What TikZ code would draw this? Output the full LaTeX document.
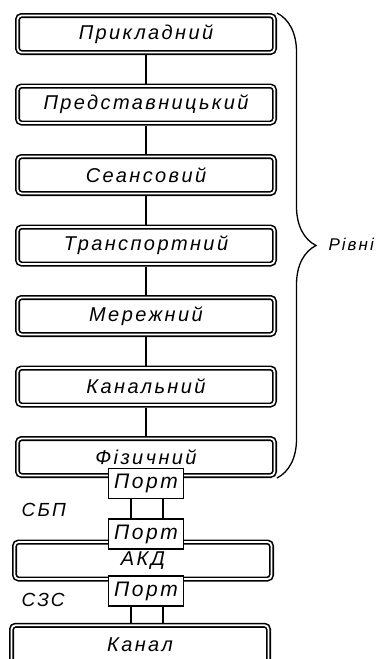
\documentclass[tikz,border=0pt]{standalone}
\usepackage{fontspec}
\setmainfont{Liberation Sans}[LetterSpace=12]
\usetikzlibrary{decorations.pathreplacing}

\tikzset{
	layerbox/.style={draw, double, double distance=1.8pt, line width=1.6pt, rounded corners=4pt,
		minimum width=257pt, minimum height=37pt, inner sep=0pt, outer sep=2.5pt,
		font=\fontsize{20}{22}\selectfont\itshape},
	port/.style={draw, fill=white, line width=1.3pt, minimum width=75pt, minimum height=30pt,
		inner sep=0pt, font=\fontsize{21}{23}\selectfont\itshape},
	lbl/.style={font=\fontsize{19}{21}\selectfont\itshape},
	wire/.style={line width=1.3pt}
}

\begin{document}
\begin{tikzpicture}[x=1pt,y=-1pt]
%\draw [help lines,black!20!white] (0,0) grid[step=20] (382,659);
\useasboundingbox (0,0) rectangle (382,659);
\clip (0,0) rectangle (382,659);

\foreach \name/\txt [count=\i from 0] in {app/Прикладний, pres/Представницький, sess/Сеансовий,
	trans/Транспортний, net/Мережний, link/Канальний, phys/Фізичний}{
	\node[layerbox] (\name) at (146,{34+70.5*\i}) {\txt};}

\foreach \a/\b in {app/pres, pres/sess, sess/trans, trans/net, net/link, link/phys}{
	\draw[wire] (\a) -- (\b);}

\node[layerbox] (akd) at (143,560.5) {АКД};
\node[layerbox, minimum height=39.5pt] (kanal) at (140,645) {Канал};

\node[port] (p1) at (146,483.5) {Порт};
\node[port] (p2) at (146,534) {Порт};
\node[port] (p3) at (146,591) {Порт};

\foreach \dx in {-15,17}{
	\draw[wire] ([xshift=\dx pt]p1.south) -- ([xshift=\dx pt]p2.north);
	\draw[wire] ([xshift=\dx pt]p3.south) -- ([xshift=\dx pt]p3.south |- kanal.north);}

\draw[wire, decorate, decoration={brace, amplitude=39pt}] (app.north east) -- (phys.south east);
\node[lbl, anchor=west] (rivni) at (325,244) {\fontsize{17}{19}\selectfont Рівні};

\node[lbl, anchor=west] (sbp) at (18,510) {СБП};
\node[lbl, anchor=west] (szs) at (18,600) {СЗС};

\end{tikzpicture}
\end{document}
